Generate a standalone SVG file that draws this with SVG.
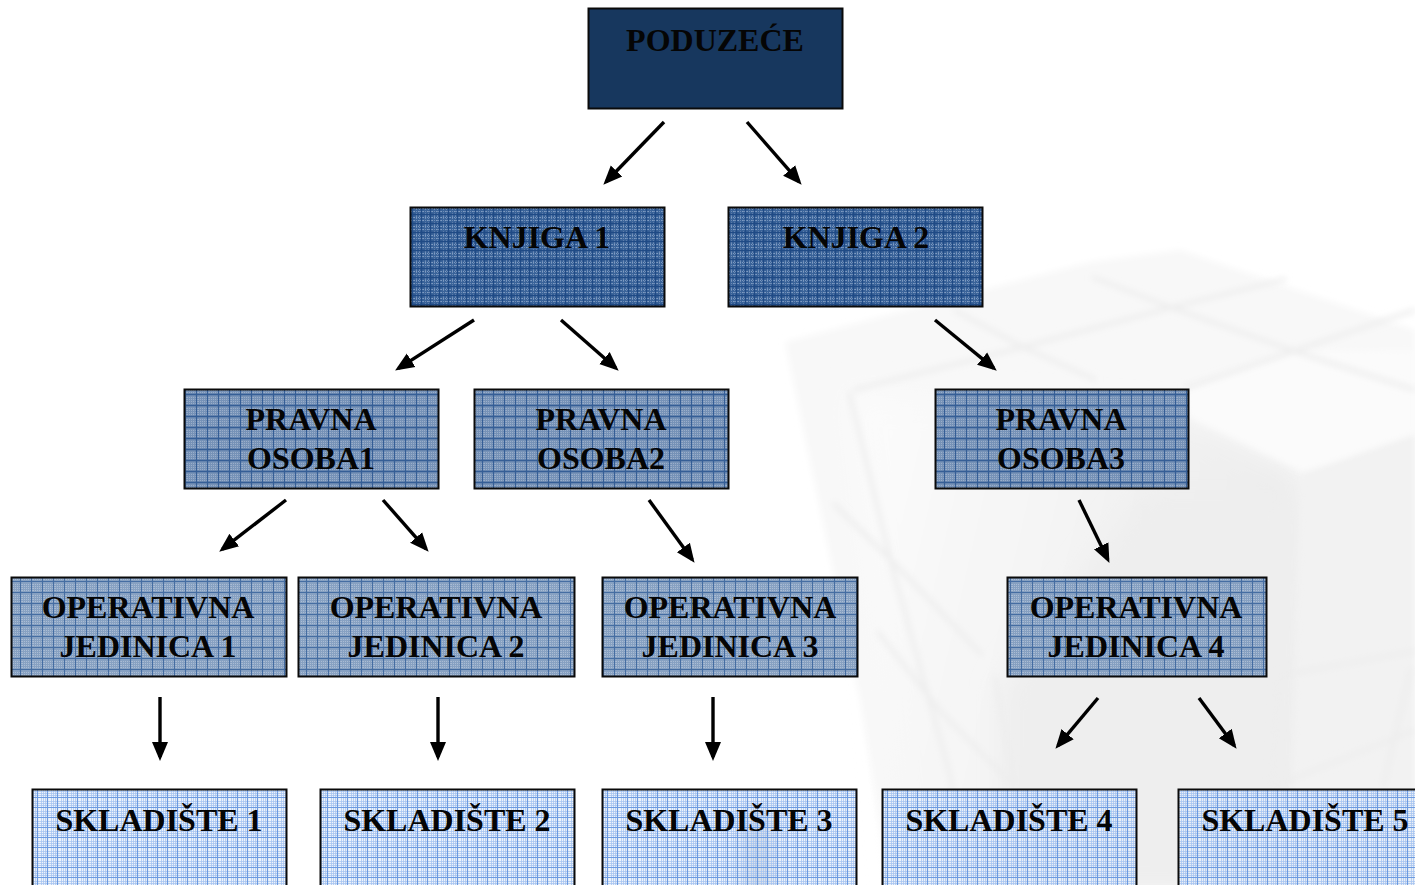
<svg xmlns="http://www.w3.org/2000/svg" width="1415" height="885" viewBox="0 0 1415 885">
<style>
text{font-family:"Liberation Serif","Times New Roman",serif;font-weight:700;font-size:32px;fill:#050505;text-anchor:middle}
.box{stroke:#0a0a0a;stroke-width:2}
.arrow{fill:none;stroke:#000;stroke-width:3.4;marker-end:url(#head)}
.cl{fill:none;stroke:#ededed;stroke-width:4}
</style>
<defs>
<marker id="head" markerUnits="userSpaceOnUse" markerWidth="24" markerHeight="22" refX="15" refY="11" orient="auto"><path d="M0,3 L19,11 L0,19 Z" fill="#000"/></marker>
<pattern id="p2" width="9" height="9" patternUnits="userSpaceOnUse"><rect width="9" height="9" fill="#3a6399"/><path d="M0,1.500h9M0,4.500h9" stroke="#7e9bc2" stroke-width="1" stroke-dasharray="1 1"/><path d="M2.500,0v9M5.500,0v9" stroke="#6d8cb6" stroke-width="1" stroke-dasharray="1 1"/><path d="M0,7.500h9M7.500,0v9" stroke="#1f4a85" stroke-width="1.400"/></pattern>
<pattern id="p3" width="11" height="11" patternUnits="userSpaceOnUse"><rect width="11" height="11" fill="#6e8cb3" fill-opacity=".95"/><path d="M0,1.500h11M0,3.500h11M0,5.500h11M0,7.500h11" stroke="#9aaeca" stroke-width="1" stroke-dasharray="1 1"/><path d="M0,9.500h11M9.500,0v11" stroke="#355e96" stroke-width="1.300"/></pattern>
<pattern id="p4" width="11" height="11" patternUnits="userSpaceOnUse"><rect width="11" height="11" fill="#7d99bd" fill-opacity=".92"/><path d="M0,1.500h11M0,3.500h11M0,5.500h11M0,7.500h11" stroke="#aabcd4" stroke-width="1" stroke-dasharray="1 1"/><path d="M0,9.500h11M9.500,0v11" stroke="#456da2" stroke-width="1.200"/></pattern>
<pattern id="p5" width="10" height="10" patternUnits="userSpaceOnUse"><rect width="10" height="10" fill="#e6eefa" fill-opacity=".7"/><path d="M0,1.500h10M0,3.500h10M0,5.500h10M1.500,0v10M3.500,0v10M5.500,0v10" stroke="#a5c2f0" stroke-width="1" stroke-opacity=".75"/><path d="M0,7.500h10M7.500,0v10" stroke="#6d9be0" stroke-width="1.200"/></pattern>
<filter id="soft" x="-10%" y="-10%" width="120%" height="120%"><feGaussianBlur stdDeviation="3"/></filter>
<filter id="softer" x="-20%" y="-20%" width="140%" height="140%"><feGaussianBlur stdDeviation="14"/></filter>
<filter id="band" x="-100%" y="-20%" width="300%" height="140%"><feGaussianBlur stdDeviation="9"/></filter>
<linearGradient id="lf" x1="0" y1="0" x2="1" y2="0.25"><stop offset="0" stop-color="#fcfcfc"/><stop offset="1" stop-color="#ececec"/></linearGradient>
</defs>
<rect width="1415" height="885" fill="#fff"/>
<g id="background-cube">
<path d="M785,342 L1090,262 L1180,250 L1415,330 V885 H890 L860,700 Z" fill="#f8f8f8" filter="url(#soft)"/>
<path d="M850,392 L1189,417 L1302,472 L1290,885 H900 L880,690 Z" fill="url(#lf)" filter="url(#softer)"/>
<path d="M1145,490 L1302,490 L1300,885 H1000 L1000,690 Z" fill="#eeeeee" filter="url(#softer)"/>
<path d="M1302,472 L1415,433 V885 H1290 Z" fill="#f2f2f2" filter="url(#soft)"/>
<path d="M1189,417 L1302,472 L1415,433 V350 L1294,351 L1185,388 Z" fill="#fbfbfb" filter="url(#soft)"/>
<path d="M745,810 H772 V900 H745 Z" fill="#b5b5b5" filter="url(#band)"/>
<g class="lines" filter="url(#soft)">
<path class="cl" d="M853,390 L1023,347 L1169,308 L1286,279"/>
<path class="cl" d="M1092,277 L1173,308 L1294,351 L1415,390"/>
<path class="cl" d="M954,310 L1023,347 L1096,380"/>
<path class="cl" d="M1185,388 L1294,351 L1415,310"/>
<path class="cl" d="M849,392 L893,570 L950,775 L970,885"/>
<path class="cl" d="M833,503 L901,570 L982,655"/>
<path class="cl" d="M877,631 L942,713 L1011,783"/>
<path class="cl" d="M995,676 L1015,787"/>
<path class="cl" d="M1278,676 L1272,787"/>
<path class="cl" d="M1415,651 L1278,676"/>
<path class="cl" d="M1415,730 L1272,787"/>
<path class="cl" d="M1411,668 L1383,787"/>
<path class="cl" d="M1145,503 V640"/>
</g>
</g>
<g id="connectors">
<path class="arrow" d="M664,122 L606.1,181.8"/>
<path class="arrow" d="M747,122 L799,181.7"/>
<path class="arrow" d="M474,320 L398.5,368.4"/>
<path class="arrow" d="M561,320 L615.7,368"/>
<path class="arrow" d="M935,320 L993.7,368.1"/>
<path class="arrow" d="M286,500 L222.4,549.2"/>
<path class="arrow" d="M383,500 L426,548.8"/>
<path class="arrow" d="M649,500 L692.2,559.6"/>
<path class="arrow" d="M1079,500 L1107.7,559.3"/>
<path class="arrow" d="M160,697 V757"/>
<path class="arrow" d="M438,697 V757"/>
<path class="arrow" d="M713,697 V757"/>
<path class="arrow" d="M1098,698 L1058,745.7"/>
<path class="arrow" d="M1199,698 L1234.2,745.6"/>
</g>
<g id="poduzece"><rect class="box" x="588.500" y="8.500" width="254" height="100" fill="#17375e"/><text x="715" y="51">PODUZEĆE</text></g>
<g id="knjiga1"><rect class="box" x="410.500" y="207.500" width="254" height="99" fill="url(#p2)"/><text x="537" y="248">KNJIGA 1</text></g>
<g id="knjiga2"><rect class="box" x="728.500" y="207.500" width="254" height="99" fill="url(#p2)"/><text x="856" y="248">KNJIGA 2</text></g>
<g id="pravna1"><rect class="box" x="184.500" y="389.500" width="254" height="99" fill="url(#p3)"/><text x="311" y="430">PRAVNA</text><text x="311" y="469">OSOBA1</text></g>
<g id="pravna2"><rect class="box" x="474.500" y="389.500" width="254" height="99" fill="url(#p3)"/><text x="601" y="430">PRAVNA</text><text x="601" y="469">OSOBA2</text></g>
<g id="pravna3"><rect class="box" x="935.500" y="389.500" width="253" height="99" fill="url(#p3)"/><text x="1061" y="430">PRAVNA</text><text x="1061" y="469">OSOBA3</text></g>
<g id="jedinica1"><rect class="box" x="11.500" y="577.500" width="275" height="99" fill="url(#p4)"/><text x="148" y="618">OPERATIVNA</text><text x="148" y="657">JEDINICA 1</text></g>
<g id="jedinica2"><rect class="box" x="298.500" y="577.500" width="276" height="99" fill="url(#p4)"/><text x="436" y="618">OPERATIVNA</text><text x="436" y="657">JEDINICA 2</text></g>
<g id="jedinica3"><rect class="box" x="602.500" y="577.500" width="255" height="99" fill="url(#p4)"/><text x="730" y="618">OPERATIVNA</text><text x="730" y="657">JEDINICA 3</text></g>
<g id="jedinica4"><rect class="box" x="1007.500" y="577.500" width="259" height="99" fill="url(#p4)"/><text x="1136" y="618">OPERATIVNA</text><text x="1136" y="657">JEDINICA 4</text></g>
<g id="skladiste1"><rect class="box" x="32.500" y="789.500" width="254" height="110" fill="url(#p5)"/><text x="159" y="831">SKLADIŠTE 1</text></g>
<g id="skladiste2"><rect class="box" x="320.500" y="789.500" width="254" height="110" fill="url(#p5)"/><text x="447" y="831">SKLADIŠTE 2</text></g>
<g id="skladiste3"><rect class="box" x="602.500" y="789.500" width="254" height="110" fill="url(#p5)"/><text x="729" y="831">SKLADIŠTE 3</text></g>
<g id="skladiste4"><rect class="box" x="882.500" y="789.500" width="254" height="110" fill="url(#p5)"/><text x="1009" y="831">SKLADIŠTE 4</text></g>
<g id="skladiste5"><rect class="box" x="1178.500" y="789.500" width="254" height="110" fill="url(#p5)"/><text x="1305" y="831">SKLADIŠTE 5</text></g>
</svg>
